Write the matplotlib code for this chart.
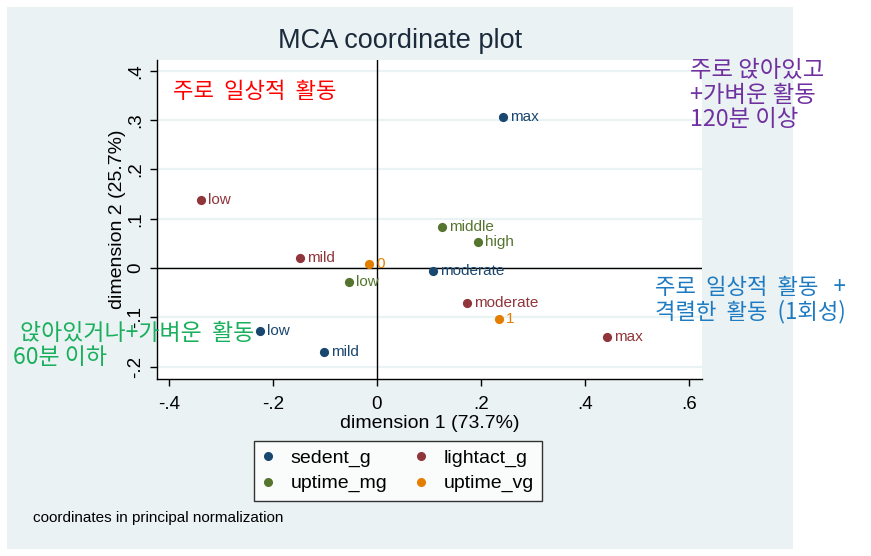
"""MCA coordinate plot (Stata s2color look) redrawn with matplotlib."""
import matplotlib
matplotlib.use("Agg")
import matplotlib.pyplot as plt
from matplotlib.patches import Rectangle
from matplotlib.lines import Line2D
from matplotlib.ticker import FixedLocator

plt.rcParams["font.family"] = ["Liberation Sans", "Noto Sans CJK KR", "DejaVu Sans"]

# category coordinates
sedent_lab = ["max", "moderate", "low", "mild"]
sedent_x = [0.242, 0.108, -0.225, -0.102]
sedent_y = [0.306, -0.006, -0.128, -0.170]

light_lab = ["low", "mild", "moderate", "max"]
light_x = [-0.338, -0.148, 0.173, 0.442]
light_y = [0.138, 0.020, -0.071, -0.140]

upmg_lab = ["middle", "high", "low"]
upmg_x = [0.125, 0.194, -0.054]
upmg_y = [0.083, 0.053, -0.028]

upvg_lab = ["0", "1"]
upvg_x = [-0.015, 0.235]
upvg_y = [0.008, -0.103]

series_names = ["sedent_g", "lightact_g", "uptime_mg", "uptime_vg"]
xticks = [-0.4, -0.2, 0.0, 0.2, 0.4, 0.6]
xtick_lab = ["-.4", "-.2", "0", ".2", ".4", ".6"]
yticks = [-0.2, -0.1, 0.0, 0.1, 0.2, 0.3, 0.4]
ytick_lab = ["-.2", "-.1", "0", ".1", ".2", ".3", ".4"]

NAVY, MAROON, FOREST, ORANGE = "#1a476f", "#90353b", "#55752f", "#e37e00"
BG = "#eaf2f3"
W, H = 871, 556

fig = plt.figure(figsize=(W / 100, H / 100), dpi=100)
fig.patch.set_facecolor("white")
bg = Rectangle((7 / W, 1 - 549 / H), (793 - 7) / W, (549 - 7) / H,
               transform=fig.transFigure, facecolor=BG, edgecolor="none", zorder=-5)
fig.add_artist(bg)

ax = fig.add_axes([157 / W, 1 - 379 / H, (702 - 157) / W, (379 - 60) / H])
ax.set_zorder(1)
ax.set_facecolor("white")
ax.set_xlim(-0.423, 0.625)
ax.set_ylim(-0.225, 0.422)
for s in ["top", "right"]:
    ax.spines[s].set_visible(False)
for s in ["left", "bottom"]:
    ax.spines[s].set_linewidth(1.0)

ax.xaxis.set_major_locator(FixedLocator(xticks))
ax.set_xticklabels(xtick_lab, fontsize=13.5)
ax.yaxis.set_major_locator(FixedLocator(yticks))
ax.set_yticklabels(ytick_lab, fontsize=13.5, rotation=90, va="center")
ax.tick_params(length=5, width=1)
ax.tick_params(axis="x", pad=7)
ax.tick_params(axis="y", pad=4)
ax.yaxis.grid(True, color=BG, lw=1.6)
ax.set_axisbelow(True)
ax.axhline(0, color="black", lw=1, zorder=1)
ax.axvline(0, color="black", lw=1, zorder=1)

groups = [(sedent_x, sedent_y, sedent_lab, NAVY), (light_x, light_y, light_lab, MAROON),
          (upmg_x, upmg_y, upmg_lab, FOREST), (upvg_x, upvg_y, upvg_lab, ORANGE)]
for xs, ys, labs, c in groups:
    ax.scatter(xs, ys, s=44, color=c, zorder=3, linewidths=0)
    for x, y, t in zip(xs, ys, labs):
        ax.annotate(t, (x, y), xytext=(5, 0), textcoords="offset points",
                    va="center", ha="left", fontsize=11, color=c, zorder=4)

ax.set_xlabel("dimension 1 (73.7%)", fontsize=14, labelpad=2)
ax.set_ylabel("dimension 2 (25.7%)", fontsize=14, labelpad=1)

fig.text(400 / W, 1 - 41 / H, "MCA coordinate plot", ha="center", va="center",
         fontsize=19.5, color="#1c2b3c")

# legend filled row by row, as in the reference
colors = [NAVY, MAROON, FOREST, ORANGE]
order = [0, 2, 1, 3]
handles = [Line2D([], [], ls="none", marker="o", ms=5.5, color=colors[i]) for i in order]
leg = fig.legend(handles, [series_names[i] for i in order], ncol=2, loc="center",
                 bbox_to_anchor=(398 / W, 1 - 471 / H), fontsize=14, frameon=True,
                 fancybox=False, edgecolor="black", handlelength=0.6, handletextpad=0.85,
                 columnspacing=1.45, borderpad=0.42, labelspacing=0.38)
leg.get_frame().set_linewidth(1.0)
leg.get_frame().set_facecolor("white")

fig.text(33 / W, 1 - 518 / H, "coordinates in principal normalization", ha="left", va="center",
         fontsize=11, color="black")

# Korean annotations laid over the chart
kr = ["Noto Sans CJK KR", "DejaVu Sans"]
fig.text(173 / W, 1 - 91 / H, "주로  일상적  활동", family=kr, fontsize=16,
         color="#ff0000", ha="left", va="center", zorder=5)
fig.text(690 / W, 1 - 95 / H, "주로 앉아있고\n+가벼운 활동\n120분 이상", family=kr, fontsize=16.8,
         color="#7030a0", ha="left", va="center", linespacing=1.08, zorder=5)
fig.text(655 / W, 1 - 300 / H, "주로  일상적  활동   +\n격렬한  활동  (1회성)", family=kr, fontsize=16,
         color="#1f7bc1", ha="left", va="center", linespacing=1.05, zorder=5)
fig.text(20 / W, 1 - 333 / H, "앉아있거나+가벼운  활동", family=kr, fontsize=16.5,
         color="#1aaf5d", ha="left", va="center", zorder=5)
fig.text(13 / W, 1 - 358 / H, "60분 이하", family=kr, fontsize=16.5,
         color="#1aaf5d", ha="left", va="center", zorder=5)

fig.savefig("out.png", dpi=100)
